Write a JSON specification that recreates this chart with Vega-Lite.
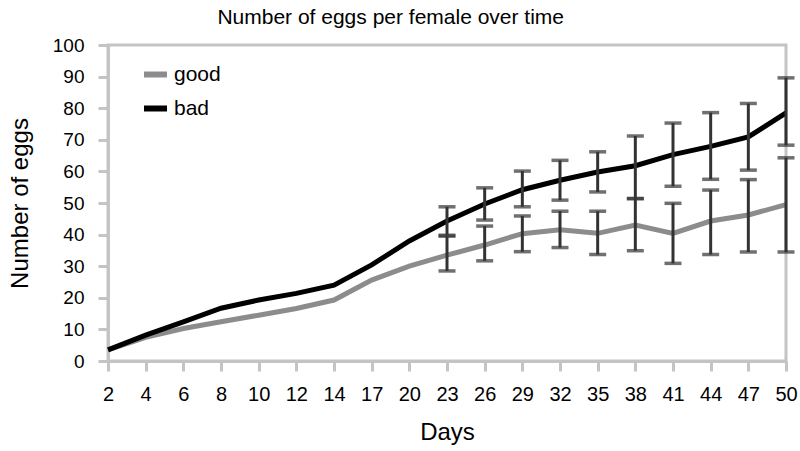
{
  "$schema": "https://vega.github.io/schema/vega-lite/v6.json",
  "autosize": "none",
  "width": 678,
  "height": 316,
  "padding": {"left": 108, "top": 45, "right": 14, "bottom": 90},
  "background": "white",
  "config": {
    "font": "Liberation Sans",
    "view": {"stroke": "#c4c4c4", "strokeWidth": 3},
    "axis": {
      "domainColor": "#c4c4c4",
      "domainWidth": 3,
      "tickColor": "#c4c4c4",
      "tickWidth": 3,
      "tickSize": 10,
      "grid": false,
      "labelColor": "#000000",
      "titleColor": "#000000",
      "labelFont": "Liberation Sans",
      "titleFont": "Liberation Sans",
      "titleFontWeight": "normal"
    }
  },
  "title": {
    "text": "Number of eggs per female over time",
    "fontSize": 21,
    "fontWeight": "normal",
    "color": "#000000",
    "anchor": "middle",
    "frame": "bounds",
    "dx": -12,
    "offset": 8
  },
  "data": {
    "values": [
      {"day": 2, "group": "good", "value": 3.5},
      {"day": 4, "group": "good", "value": 7.5},
      {"day": 6, "group": "good", "value": 10.3},
      {"day": 8, "group": "good", "value": 12.4},
      {"day": 10, "group": "good", "value": 14.5},
      {"day": 12, "group": "good", "value": 16.6},
      {"day": 14, "group": "good", "value": 19.3},
      {"day": 17, "group": "good", "value": 25.6},
      {"day": 20, "group": "good", "value": 30},
      {"day": 23, "group": "good", "value": 33.5, "lo": 28.5, "hi": 39.5},
      {"day": 26, "group": "good", "value": 36.7, "lo": 31.7, "hi": 42.7},
      {"day": 29, "group": "good", "value": 40.3, "lo": 34.6, "hi": 45.9},
      {"day": 32, "group": "good", "value": 41.5, "lo": 35.9, "hi": 47.4},
      {"day": 35, "group": "good", "value": 40.4, "lo": 33.7, "hi": 47.4},
      {"day": 38, "group": "good", "value": 43, "lo": 34.9, "hi": 51.4},
      {"day": 41, "group": "good", "value": 40.4, "lo": 30.9, "hi": 49.9},
      {"day": 44, "group": "good", "value": 44.3, "lo": 33.7, "hi": 54.1},
      {"day": 47, "group": "good", "value": 46.2, "lo": 34.5, "hi": 57.4},
      {"day": 50, "group": "good", "value": 49.5, "lo": 34.5, "hi": 64.3},
      {"day": 2, "group": "bad", "value": 3.5},
      {"day": 4, "group": "bad", "value": 8.2},
      {"day": 6, "group": "bad", "value": 12.4},
      {"day": 8, "group": "bad", "value": 16.7},
      {"day": 10, "group": "bad", "value": 19.3},
      {"day": 12, "group": "bad", "value": 21.4},
      {"day": 14, "group": "bad", "value": 24},
      {"day": 17, "group": "bad", "value": 30.4},
      {"day": 20, "group": "bad", "value": 38},
      {"day": 23, "group": "bad", "value": 44.3, "lo": 39.8, "hi": 48.8},
      {"day": 26, "group": "bad", "value": 49.7, "lo": 44.6, "hi": 54.8},
      {"day": 29, "group": "bad", "value": 54.2, "lo": 48.8, "hi": 60.1},
      {"day": 32, "group": "bad", "value": 57.2, "lo": 50.9, "hi": 63.5},
      {"day": 35, "group": "bad", "value": 59.8, "lo": 53.5, "hi": 66.2},
      {"day": 38, "group": "bad", "value": 61.8, "lo": 51.4, "hi": 71.2},
      {"day": 41, "group": "bad", "value": 65.3, "lo": 55.3, "hi": 75.3},
      {"day": 44, "group": "bad", "value": 67.9, "lo": 57.5, "hi": 78.6},
      {"day": 47, "group": "bad", "value": 70.9, "lo": 60.4, "hi": 81.5},
      {"day": 50, "group": "bad", "value": 78.5, "lo": 68.3, "hi": 89.6}
    ]
  },
  "encoding": {
    "x": {
      "field": "day",
      "type": "ordinal",
      "sort": [2, 4, 6, 8, 10, 12, 14, 17, 20, 23, 26, 29, 32, 35, 38, 41, 44, 47, 50],
      "scale": {"type": "point", "padding": 0},
      "axis": {
        "title": "Days",
        "labelAngle": 0,
        "labelFontSize": 20,
        "labelPadding": 13,
        "labelOverlap": false,
        "titleFontSize": 24,
        "titlePadding": 16
      }
    }
  },
  "layer": [
    {
      "mark": {"type": "line", "strokeWidth": 5},
      "encoding": {
        "y": {
          "field": "value",
          "type": "quantitative",
          "scale": {"domain": [0, 100], "nice": false},
          "axis": {
            "title": "Number of eggs",
            "values": [0, 10, 20, 30, 40, 50, 60, 70, 80, 90, 100],
            "labelOverlap": false,
            "labelFontSize": 19,
            "labelPadding": 14,
            "titleFontSize": 24,
            "titlePadding": 20
          }
        },
        "color": {
          "field": "group",
          "type": "nominal",
          "scale": {"domain": ["good", "bad"], "range": ["#8c8c8c", "#000000"]},
          "legend": {
            "title": null,
            "orient": "none",
            "legendX": 33,
            "legendY": 15,
            "padding": 0,
            "symbolType": "stroke",
            "symbolSize": 529,
            "symbolStrokeWidth": 6,
            "labelFontSize": 21,
            "labelColor": "#000000",
            "labelOffset": 4,
            "rowPadding": 7
          }
        }
      }
    },
    {
      "transform": [{"filter": "isValid(datum.lo)"}],
      "mark": {
        "type": "errorbar",
        "color": "#333333",
        "rule": {"strokeWidth": 3},
        "ticks": {"size": 17, "thickness": 3.5}
      },
      "encoding": {
        "y": {
          "field": "lo",
          "type": "quantitative",
          "axis": {
            "title": "Number of eggs",
            "values": [0, 10, 20, 30, 40, 50, 60, 70, 80, 90, 100],
            "labelOverlap": false,
            "labelFontSize": 19,
            "labelPadding": 14,
            "titleFontSize": 24,
            "titlePadding": 20
          }
        },
        "y2": {"field": "hi"}
      }
    }
  ]
}
